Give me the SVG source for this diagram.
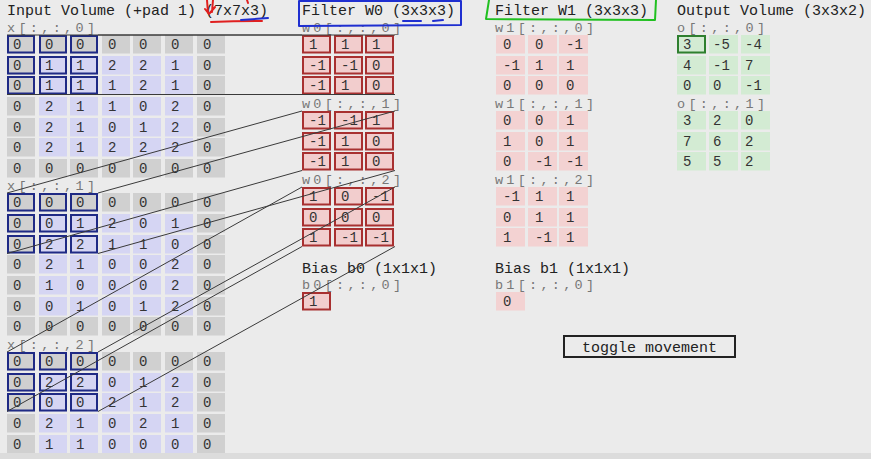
<svg xmlns="http://www.w3.org/2000/svg" width="871" height="459" viewBox="0 0 871 459">
<style>
.c{width:28px;height:18.5px}
.p{fill:#d0d0d0}
.i{fill:#d5d5f3}
.n{font-family:"Liberation Mono",monospace;font-size:14px;fill:#333}
.h{font-family:"Liberation Mono",monospace;font-size:15px;fill:#222}
.l{font-family:"Liberation Mono",monospace;font-size:13.5px;fill:#777}
.hb{fill:none;stroke:#1f2a85;stroke-width:2;width:26px;height:16.5px}
.f0{fill:#f2cdcd;stroke:#a83030;stroke-width:2;width:27px;height:16.5px}
.f1{fill:#f3d2d2;width:29px;height:18.5px}
.o{fill:#d3ebd3;width:29px;height:18.5px}
.oh{fill:none;stroke:#2f7f2f;stroke-width:2;width:27px;height:16.5px}
.ln{stroke:#3a3a3a;stroke-width:1;fill:none}
.an{fill:none;stroke-width:2;stroke-linecap:round;stroke-linejoin:round}
</style>
<rect width="871" height="459" fill="#ebebeb"/>

<g id="input-header"><text class="h" x="7" y="15">Input Volume (+pad 1) (7x7x3)</text></g>

<g id="x0">
<text class="l" x="7" y="32" textLength="88">x[:,:,0]</text>
<rect class="c p" x="7" y="35"/><text class="n" x="13" y="48.5">0</text>
<rect class="c p" x="39" y="35"/><text class="n" x="45" y="48.5">0</text>
<rect class="c p" x="70" y="35"/><text class="n" x="76" y="48.5">0</text>
<rect class="c p" x="102" y="35"/><text class="n" x="108" y="48.5">0</text>
<rect class="c p" x="133" y="35"/><text class="n" x="139" y="48.5">0</text>
<rect class="c p" x="165" y="35"/><text class="n" x="171" y="48.5">0</text>
<rect class="c p" x="197" y="35"/><text class="n" x="203" y="48.5">0</text>
<rect class="c p" x="7" y="56"/><text class="n" x="13" y="69.5">0</text>
<rect class="c i" x="39" y="56"/><text class="n" x="45" y="69.5">1</text>
<rect class="c i" x="70" y="56"/><text class="n" x="76" y="69.5">1</text>
<rect class="c i" x="102" y="56"/><text class="n" x="108" y="69.5">2</text>
<rect class="c i" x="133" y="56"/><text class="n" x="139" y="69.5">2</text>
<rect class="c i" x="165" y="56"/><text class="n" x="171" y="69.5">1</text>
<rect class="c p" x="197" y="56"/><text class="n" x="203" y="69.5">0</text>
<rect class="c p" x="7" y="76"/><text class="n" x="13" y="89.5">0</text>
<rect class="c i" x="39" y="76"/><text class="n" x="45" y="89.5">1</text>
<rect class="c i" x="70" y="76"/><text class="n" x="76" y="89.5">1</text>
<rect class="c i" x="102" y="76"/><text class="n" x="108" y="89.5">1</text>
<rect class="c i" x="133" y="76"/><text class="n" x="139" y="89.5">2</text>
<rect class="c i" x="165" y="76"/><text class="n" x="171" y="89.5">1</text>
<rect class="c p" x="197" y="76"/><text class="n" x="203" y="89.5">0</text>
<rect class="c p" x="7" y="97"/><text class="n" x="13" y="110.5">0</text>
<rect class="c i" x="39" y="97"/><text class="n" x="45" y="110.5">2</text>
<rect class="c i" x="70" y="97"/><text class="n" x="76" y="110.5">1</text>
<rect class="c i" x="102" y="97"/><text class="n" x="108" y="110.5">1</text>
<rect class="c i" x="133" y="97"/><text class="n" x="139" y="110.5">0</text>
<rect class="c i" x="165" y="97"/><text class="n" x="171" y="110.5">2</text>
<rect class="c p" x="197" y="97"/><text class="n" x="203" y="110.5">0</text>
<rect class="c p" x="7" y="118"/><text class="n" x="13" y="131.5">0</text>
<rect class="c i" x="39" y="118"/><text class="n" x="45" y="131.5">2</text>
<rect class="c i" x="70" y="118"/><text class="n" x="76" y="131.5">1</text>
<rect class="c i" x="102" y="118"/><text class="n" x="108" y="131.5">0</text>
<rect class="c i" x="133" y="118"/><text class="n" x="139" y="131.5">1</text>
<rect class="c i" x="165" y="118"/><text class="n" x="171" y="131.5">2</text>
<rect class="c p" x="197" y="118"/><text class="n" x="203" y="131.5">0</text>
<rect class="c p" x="7" y="138"/><text class="n" x="13" y="151.5">0</text>
<rect class="c i" x="39" y="138"/><text class="n" x="45" y="151.5">2</text>
<rect class="c i" x="70" y="138"/><text class="n" x="76" y="151.5">1</text>
<rect class="c i" x="102" y="138"/><text class="n" x="108" y="151.5">2</text>
<rect class="c i" x="133" y="138"/><text class="n" x="139" y="151.5">2</text>
<rect class="c i" x="165" y="138"/><text class="n" x="171" y="151.5">2</text>
<rect class="c p" x="197" y="138"/><text class="n" x="203" y="151.5">0</text>
<rect class="c p" x="7" y="159"/><text class="n" x="13" y="172.5">0</text>
<rect class="c p" x="39" y="159"/><text class="n" x="45" y="172.5">0</text>
<rect class="c p" x="70" y="159"/><text class="n" x="76" y="172.5">0</text>
<rect class="c p" x="102" y="159"/><text class="n" x="108" y="172.5">0</text>
<rect class="c p" x="133" y="159"/><text class="n" x="139" y="172.5">0</text>
<rect class="c p" x="165" y="159"/><text class="n" x="171" y="172.5">0</text>
<rect class="c p" x="197" y="159"/><text class="n" x="203" y="172.5">0</text>
<rect class="hb" x="8" y="36"/><rect class="hb" x="40" y="36"/><rect class="hb" x="71" y="36"/>
<rect class="hb" x="8" y="57"/><rect class="hb" x="40" y="57"/><rect class="hb" x="71" y="57"/>
<rect class="hb" x="8" y="77"/><rect class="hb" x="40" y="77"/><rect class="hb" x="71" y="77"/>
</g>

<g id="x1">
<text class="l" x="7" y="190" textLength="88">x[:,:,1]</text>
<rect class="c p" x="7" y="193"/><text class="n" x="13" y="206.5">0</text>
<rect class="c p" x="39" y="193"/><text class="n" x="45" y="206.5">0</text>
<rect class="c p" x="70" y="193"/><text class="n" x="76" y="206.5">0</text>
<rect class="c p" x="102" y="193"/><text class="n" x="108" y="206.5">0</text>
<rect class="c p" x="133" y="193"/><text class="n" x="139" y="206.5">0</text>
<rect class="c p" x="165" y="193"/><text class="n" x="171" y="206.5">0</text>
<rect class="c p" x="197" y="193"/><text class="n" x="203" y="206.5">0</text>
<rect class="c p" x="7" y="214"/><text class="n" x="13" y="227.5">0</text>
<rect class="c i" x="39" y="214"/><text class="n" x="45" y="227.5">0</text>
<rect class="c i" x="70" y="214"/><text class="n" x="76" y="227.5">1</text>
<rect class="c i" x="102" y="214"/><text class="n" x="108" y="227.5">2</text>
<rect class="c i" x="133" y="214"/><text class="n" x="139" y="227.5">0</text>
<rect class="c i" x="165" y="214"/><text class="n" x="171" y="227.5">1</text>
<rect class="c p" x="197" y="214"/><text class="n" x="203" y="227.5">0</text>
<rect class="c p" x="7" y="235"/><text class="n" x="13" y="248.5">0</text>
<rect class="c i" x="39" y="235"/><text class="n" x="45" y="248.5">2</text>
<rect class="c i" x="70" y="235"/><text class="n" x="76" y="248.5">2</text>
<rect class="c i" x="102" y="235"/><text class="n" x="108" y="248.5">1</text>
<rect class="c i" x="133" y="235"/><text class="n" x="139" y="248.5">1</text>
<rect class="c i" x="165" y="235"/><text class="n" x="171" y="248.5">0</text>
<rect class="c p" x="197" y="235"/><text class="n" x="203" y="248.5">0</text>
<rect class="c p" x="7" y="255"/><text class="n" x="13" y="268.5">0</text>
<rect class="c i" x="39" y="255"/><text class="n" x="45" y="268.5">2</text>
<rect class="c i" x="70" y="255"/><text class="n" x="76" y="268.5">1</text>
<rect class="c i" x="102" y="255"/><text class="n" x="108" y="268.5">0</text>
<rect class="c i" x="133" y="255"/><text class="n" x="139" y="268.5">0</text>
<rect class="c i" x="165" y="255"/><text class="n" x="171" y="268.5">2</text>
<rect class="c p" x="197" y="255"/><text class="n" x="203" y="268.5">0</text>
<rect class="c p" x="7" y="276"/><text class="n" x="13" y="289.5">0</text>
<rect class="c i" x="39" y="276"/><text class="n" x="45" y="289.5">1</text>
<rect class="c i" x="70" y="276"/><text class="n" x="76" y="289.5">0</text>
<rect class="c i" x="102" y="276"/><text class="n" x="108" y="289.5">0</text>
<rect class="c i" x="133" y="276"/><text class="n" x="139" y="289.5">0</text>
<rect class="c i" x="165" y="276"/><text class="n" x="171" y="289.5">2</text>
<rect class="c p" x="197" y="276"/><text class="n" x="203" y="289.5">0</text>
<rect class="c p" x="7" y="297"/><text class="n" x="13" y="310.5">0</text>
<rect class="c i" x="39" y="297"/><text class="n" x="45" y="310.5">0</text>
<rect class="c i" x="70" y="297"/><text class="n" x="76" y="310.5">1</text>
<rect class="c i" x="102" y="297"/><text class="n" x="108" y="310.5">0</text>
<rect class="c i" x="133" y="297"/><text class="n" x="139" y="310.5">1</text>
<rect class="c i" x="165" y="297"/><text class="n" x="171" y="310.5">2</text>
<rect class="c p" x="197" y="297"/><text class="n" x="203" y="310.5">0</text>
<rect class="c p" x="7" y="317"/><text class="n" x="13" y="330.5">0</text>
<rect class="c p" x="39" y="317"/><text class="n" x="45" y="330.5">0</text>
<rect class="c p" x="70" y="317"/><text class="n" x="76" y="330.5">0</text>
<rect class="c p" x="102" y="317"/><text class="n" x="108" y="330.5">0</text>
<rect class="c p" x="133" y="317"/><text class="n" x="139" y="330.5">0</text>
<rect class="c p" x="165" y="317"/><text class="n" x="171" y="330.5">0</text>
<rect class="c p" x="197" y="317"/><text class="n" x="203" y="330.5">0</text>
<rect class="hb" x="8" y="194"/><rect class="hb" x="40" y="194"/><rect class="hb" x="71" y="194"/>
<rect class="hb" x="8" y="215"/><rect class="hb" x="40" y="215"/><rect class="hb" x="71" y="215"/>
<rect class="hb" x="8" y="236"/><rect class="hb" x="40" y="236"/><rect class="hb" x="71" y="236"/>
</g>

<g id="x2">
<text class="l" x="7" y="349" textLength="88">x[:,:,2]</text>
<rect class="c p" x="7" y="352"/><text class="n" x="13" y="365.5">0</text>
<rect class="c p" x="39" y="352"/><text class="n" x="45" y="365.5">0</text>
<rect class="c p" x="70" y="352"/><text class="n" x="76" y="365.5">0</text>
<rect class="c p" x="102" y="352"/><text class="n" x="108" y="365.5">0</text>
<rect class="c p" x="133" y="352"/><text class="n" x="139" y="365.5">0</text>
<rect class="c p" x="165" y="352"/><text class="n" x="171" y="365.5">0</text>
<rect class="c p" x="197" y="352"/><text class="n" x="203" y="365.5">0</text>
<rect class="c p" x="7" y="373"/><text class="n" x="13" y="386.5">0</text>
<rect class="c i" x="39" y="373"/><text class="n" x="45" y="386.5">2</text>
<rect class="c i" x="70" y="373"/><text class="n" x="76" y="386.5">2</text>
<rect class="c i" x="102" y="373"/><text class="n" x="108" y="386.5">0</text>
<rect class="c i" x="133" y="373"/><text class="n" x="139" y="386.5">1</text>
<rect class="c i" x="165" y="373"/><text class="n" x="171" y="386.5">2</text>
<rect class="c p" x="197" y="373"/><text class="n" x="203" y="386.5">0</text>
<rect class="c p" x="7" y="393"/><text class="n" x="13" y="406.5">0</text>
<rect class="c i" x="39" y="393"/><text class="n" x="45" y="406.5">0</text>
<rect class="c i" x="70" y="393"/><text class="n" x="76" y="406.5">0</text>
<rect class="c i" x="102" y="393"/><text class="n" x="108" y="406.5">2</text>
<rect class="c i" x="133" y="393"/><text class="n" x="139" y="406.5">1</text>
<rect class="c i" x="165" y="393"/><text class="n" x="171" y="406.5">2</text>
<rect class="c p" x="197" y="393"/><text class="n" x="203" y="406.5">0</text>
<rect class="c p" x="7" y="414"/><text class="n" x="13" y="427.5">0</text>
<rect class="c i" x="39" y="414"/><text class="n" x="45" y="427.5">2</text>
<rect class="c i" x="70" y="414"/><text class="n" x="76" y="427.5">1</text>
<rect class="c i" x="102" y="414"/><text class="n" x="108" y="427.5">0</text>
<rect class="c i" x="133" y="414"/><text class="n" x="139" y="427.5">2</text>
<rect class="c i" x="165" y="414"/><text class="n" x="171" y="427.5">1</text>
<rect class="c p" x="197" y="414"/><text class="n" x="203" y="427.5">0</text>
<rect class="c p" x="7" y="435"/><text class="n" x="13" y="448.5">0</text>
<rect class="c i" x="39" y="435"/><text class="n" x="45" y="448.5">1</text>
<rect class="c i" x="70" y="435"/><text class="n" x="76" y="448.5">1</text>
<rect class="c i" x="102" y="435"/><text class="n" x="108" y="448.5">0</text>
<rect class="c i" x="133" y="435"/><text class="n" x="139" y="448.5">0</text>
<rect class="c i" x="165" y="435"/><text class="n" x="171" y="448.5">0</text>
<rect class="c p" x="197" y="435"/><text class="n" x="203" y="448.5">0</text>
<rect class="hb" x="8" y="353"/><rect class="hb" x="40" y="353"/><rect class="hb" x="71" y="353"/>
<rect class="hb" x="8" y="374"/><rect class="hb" x="40" y="374"/><rect class="hb" x="71" y="374"/>
<rect class="hb" x="8" y="394"/><rect class="hb" x="40" y="394"/><rect class="hb" x="71" y="394"/>
</g>

<g id="w0-header"><text class="h" x="302" y="15">Filter W0 (3x3x3)</text></g>
<g id="w0-0">
<text class="l" x="302" y="32" textLength="99">w0[:,:,0]</text>
<rect class="f0" x="303" y="36"/><text class="n" x="309" y="48.5">1</text>
<rect class="f0" x="335" y="36"/><text class="n" x="341" y="48.5">1</text>
<rect class="f0" x="366" y="36"/><text class="n" x="372" y="48.5">1</text>
<rect class="f0" x="303" y="57"/><text class="n" x="309" y="69.5">-1</text>
<rect class="f0" x="335" y="57"/><text class="n" x="341" y="69.5">-1</text>
<rect class="f0" x="366" y="57"/><text class="n" x="372" y="69.5">0</text>
<rect class="f0" x="303" y="77"/><text class="n" x="309" y="89.5">-1</text>
<rect class="f0" x="335" y="77"/><text class="n" x="341" y="89.5">1</text>
<rect class="f0" x="366" y="77"/><text class="n" x="372" y="89.5">0</text>
</g>
<g id="w0-1">
<text class="l" x="302" y="108" textLength="99">w0[:,:,1]</text>
<rect class="f0" x="303" y="112"/><text class="n" x="309" y="124.5">-1</text>
<rect class="f0" x="335" y="112"/><text class="n" x="341" y="124.5">-1</text>
<rect class="f0" x="366" y="112"/><text class="n" x="372" y="124.5">1</text>
<rect class="f0" x="303" y="133"/><text class="n" x="309" y="145.5">-1</text>
<rect class="f0" x="335" y="133"/><text class="n" x="341" y="145.5">1</text>
<rect class="f0" x="366" y="133"/><text class="n" x="372" y="145.5">0</text>
<rect class="f0" x="303" y="153"/><text class="n" x="309" y="165.5">-1</text>
<rect class="f0" x="335" y="153"/><text class="n" x="341" y="165.5">1</text>
<rect class="f0" x="366" y="153"/><text class="n" x="372" y="165.5">0</text>
</g>
<g id="w0-2">
<text class="l" x="302" y="184" textLength="99">w0[:,:,2]</text>
<rect class="f0" x="303" y="188"/><text class="n" x="309" y="200.5">1</text>
<rect class="f0" x="335" y="188"/><text class="n" x="341" y="200.5">0</text>
<rect class="f0" x="366" y="188"/><text class="n" x="372" y="200.5">-1</text>
<rect class="f0" x="303" y="209"/><text class="n" x="309" y="221.5">0</text>
<rect class="f0" x="335" y="209"/><text class="n" x="341" y="221.5">0</text>
<rect class="f0" x="366" y="209"/><text class="n" x="372" y="221.5">0</text>
<rect class="f0" x="303" y="229"/><text class="n" x="309" y="241.5">1</text>
<rect class="f0" x="335" y="229"/><text class="n" x="341" y="241.5">-1</text>
<rect class="f0" x="366" y="229"/><text class="n" x="372" y="241.5">-1</text>
</g>
<g id="b0">
<text class="h" x="302" y="273">Bias b0 (1x1x1)</text>
<text class="l" x="302" y="289" textLength="99">b0[:,:,0]</text>
<rect class="f0" x="303" y="293"/><text class="n" x="309" y="305.5">1</text>
</g>

<g id="w1-header"><text class="h" x="495" y="15">Filter W1 (3x3x3)</text></g>
<g id="w1-0">
<text class="l" x="495" y="32" textLength="99">w1[:,:,0]</text>
<rect class="f1" x="496" y="35"/><text class="n" x="503" y="48.5">0</text>
<rect class="f1" x="528" y="35"/><text class="n" x="535" y="48.5">0</text>
<rect class="f1" x="559" y="35"/><text class="n" x="566" y="48.5">-1</text>
<rect class="f1" x="496" y="56"/><text class="n" x="503" y="69.5">-1</text>
<rect class="f1" x="528" y="56"/><text class="n" x="535" y="69.5">1</text>
<rect class="f1" x="559" y="56"/><text class="n" x="566" y="69.5">1</text>
<rect class="f1" x="496" y="76"/><text class="n" x="503" y="89.5">0</text>
<rect class="f1" x="528" y="76"/><text class="n" x="535" y="89.5">0</text>
<rect class="f1" x="559" y="76"/><text class="n" x="566" y="89.5">0</text>
</g>
<g id="w1-1">
<text class="l" x="495" y="108" textLength="99">w1[:,:,1]</text>
<rect class="f1" x="496" y="111"/><text class="n" x="503" y="124.5">0</text>
<rect class="f1" x="528" y="111"/><text class="n" x="535" y="124.5">0</text>
<rect class="f1" x="559" y="111"/><text class="n" x="566" y="124.5">1</text>
<rect class="f1" x="496" y="132"/><text class="n" x="503" y="145.5">1</text>
<rect class="f1" x="528" y="132"/><text class="n" x="535" y="145.5">0</text>
<rect class="f1" x="559" y="132"/><text class="n" x="566" y="145.5">1</text>
<rect class="f1" x="496" y="152"/><text class="n" x="503" y="165.5">0</text>
<rect class="f1" x="528" y="152"/><text class="n" x="535" y="165.5">-1</text>
<rect class="f1" x="559" y="152"/><text class="n" x="566" y="165.5">-1</text>
</g>
<g id="w1-2">
<text class="l" x="495" y="184" textLength="99">w1[:,:,2]</text>
<rect class="f1" x="496" y="187"/><text class="n" x="503" y="200.5">-1</text>
<rect class="f1" x="528" y="187"/><text class="n" x="535" y="200.5">1</text>
<rect class="f1" x="559" y="187"/><text class="n" x="566" y="200.5">1</text>
<rect class="f1" x="496" y="208"/><text class="n" x="503" y="221.5">0</text>
<rect class="f1" x="528" y="208"/><text class="n" x="535" y="221.5">1</text>
<rect class="f1" x="559" y="208"/><text class="n" x="566" y="221.5">1</text>
<rect class="f1" x="496" y="228"/><text class="n" x="503" y="241.5">1</text>
<rect class="f1" x="528" y="228"/><text class="n" x="535" y="241.5">-1</text>
<rect class="f1" x="559" y="228"/><text class="n" x="566" y="241.5">1</text>
</g>
<g id="b1">
<text class="h" x="495" y="273">Bias b1 (1x1x1)</text>
<text class="l" x="495" y="289" textLength="99">b1[:,:,0]</text>
<rect class="f1" x="496" y="292"/><text class="n" x="503" y="305.5">0</text>
</g>

<g id="out-header"><text class="h" x="677" y="15">Output Volume (3x3x2)</text></g>
<g id="o0">
<text class="l" x="677" y="32" textLength="88">o[:,:,0]</text>
<rect class="o" x="677" y="35"/><text class="n" x="683" y="48.5">3</text>
<rect class="o" x="709" y="35"/><text class="n" x="713" y="48.5">-5</text>
<rect class="o" x="741" y="35"/><text class="n" x="745" y="48.5">-4</text>
<rect class="o" x="677" y="56"/><text class="n" x="683" y="69.5">4</text>
<rect class="o" x="709" y="56"/><text class="n" x="713" y="69.5">-1</text>
<rect class="o" x="741" y="56"/><text class="n" x="745" y="69.5">7</text>
<rect class="o" x="677" y="76"/><text class="n" x="683" y="89.5">0</text>
<rect class="o" x="709" y="76"/><text class="n" x="713" y="89.5">0</text>
<rect class="o" x="741" y="76"/><text class="n" x="745" y="89.5">-1</text>
<rect class="oh" x="678" y="36"/>
</g>
<g id="o1">
<text class="l" x="677" y="108" textLength="88">o[:,:,1]</text>
<rect class="o" x="677" y="111"/><text class="n" x="683" y="124.5">3</text>
<rect class="o" x="709" y="111"/><text class="n" x="713" y="124.5">2</text>
<rect class="o" x="741" y="111"/><text class="n" x="745" y="124.5">0</text>
<rect class="o" x="677" y="132"/><text class="n" x="683" y="145.5">7</text>
<rect class="o" x="709" y="132"/><text class="n" x="713" y="145.5">6</text>
<rect class="o" x="741" y="132"/><text class="n" x="745" y="145.5">2</text>
<rect class="o" x="677" y="152"/><text class="n" x="683" y="165.5">5</text>
<rect class="o" x="709" y="152"/><text class="n" x="713" y="165.5">5</text>
<rect class="o" x="741" y="152"/><text class="n" x="745" y="165.5">2</text>
</g>

<g id="toggle">
<rect x="564" y="336" width="171" height="21" fill="#ebebeb" stroke="#222" stroke-width="2"/>
<text class="h" x="649.5" y="352" text-anchor="middle">toggle movement</text>
</g>

<g id="connectors" class="ln">
<line x1="7" y1="35" x2="302" y2="35"/>
<line x1="98" y1="35" x2="395" y2="35"/>
<line x1="7" y1="94.5" x2="302" y2="94.5"/>
<line x1="98" y1="94.5" x2="395" y2="94.5"/>
<line x1="7" y1="193" x2="302" y2="111"/>
<line x1="98" y1="193" x2="395" y2="111"/>
<line x1="7" y1="253.5" x2="302" y2="170.5"/>
<line x1="98" y1="253.5" x2="395" y2="170.5"/>
<line x1="7" y1="352" x2="302" y2="187"/>
<line x1="98" y1="352" x2="395" y2="187"/>
<line x1="7" y1="411.5" x2="302" y2="246.5"/>
<line x1="98" y1="411.5" x2="395" y2="246.5"/>
</g>

<g id="annotations">
<path class="an" stroke="#e02020" d="M207,0 L208,13 M213,0 L212,12 M205,9 L209,14 L215,7 M247,0 L248,3"/>
<path class="an" stroke="#e02020" d="M211,22 Q236,21 262,21"/>
<path class="an" stroke="#1f2fd0" d="M241,20 L268,18"/>
<path class="an" stroke="#1f2fd0" d="M299,1 L461,1 L461,25 L299,26 Z"/>
<path class="an" stroke="#1f2fd0" d="M403,21 L421,21 M433,21 L443,20"/>
<path class="an" stroke="#20c020" d="M489,0 L486,19 L655,20 L656,0"/>
</g>

<rect x="0" y="453" width="871" height="6" fill="#dcdcdc"/>
</svg>
